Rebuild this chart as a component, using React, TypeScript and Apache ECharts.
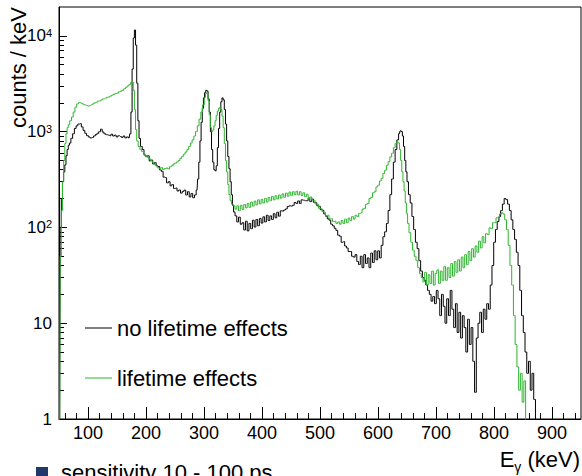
import React, { useEffect, useRef } from "react";
import * as echarts from "echarts";

const seriesNames = ["no lifetime effects", "lifetime effects"];

const noLifetime: [number, number][] = [
  [51, 0.3], [53, 100], [55, 200], [57, 300], [59, 380], [61, 450], [63, 560], [65, 650], [67, 720], [69, 760],
  [72, 850], [75, 950], [78, 1080], [81, 1150], [84, 1200], [87, 1210], [90, 1120], [93, 1030], [96, 960], [99, 910],
  [102, 880], [105, 860], [108, 870], [111, 900], [114, 930], [117, 960], [120, 1000], [123, 1060], [126, 990], [129, 950],
  [132, 930], [135, 920], [138, 905], [141, 940], [144, 900], [147, 920], [150, 880], [153, 905], [156, 890], [159, 870],
  [162, 900], [165, 860], [168, 880], [171, 860], [173, 950], [175, 1600], [177, 4500], [179, 9500], [181, 11500], [183, 8000],
  [185, 3200], [187, 1300], [189, 850], [192, 700], [195, 650], [198, 570], [201, 550], [204, 560], [207, 495], [210, 505],
  [213, 460], [216, 475], [219, 440], [222, 432], [225, 398], [228, 385], [231, 335], [234, 330], [237, 292], [240, 300],
  [243, 272], [246, 280], [249, 255], [252, 258], [255, 240], [258, 246], [261, 228], [264, 238], [267, 245], [270, 218],
  [273, 236], [276, 208], [279, 226], [282, 204], [285, 218], [288, 245], [290, 320], [292, 480], [294, 800], [296, 1250],
  [298, 1750], [300, 2250], [302, 2550], [304, 2700], [306, 2650], [308, 2200], [310, 1600], [312, 1000], [314, 650], [316, 480],
  [318, 400], [320, 390], [322, 440], [324, 680], [326, 1080], [328, 1600], [330, 2050], [332, 2250], [334, 2150], [336, 1700],
  [338, 1200], [340, 800], [342, 550], [344, 410], [346, 300], [348, 220], [350, 170], [352, 145], [355, 132], [358, 114],
  [361, 128], [364, 108], [367, 112], [370, 94], [373, 116], [376, 92], [379, 110], [382, 97], [385, 119], [388, 101],
  [391, 121], [394, 104], [397, 124], [400, 111], [403, 129], [406, 114], [409, 134], [412, 118], [415, 132], [418, 121],
  [421, 139], [424, 126], [427, 144], [430, 131], [433, 149], [436, 148], [439, 152], [442, 156], [445, 165], [448, 168],
  [451, 167], [454, 170], [457, 182], [460, 178], [463, 189], [466, 178], [469, 194], [472, 192], [475, 190], [478, 190],
  [481, 202], [484, 186], [487, 198], [490, 183], [493, 181], [496, 168], [499, 166], [502, 153], [505, 151], [508, 138],
  [511, 131], [514, 123], [517, 119], [520, 108], [523, 104], [526, 98], [529, 93], [532, 83], [535, 81], [538, 70],
  [541, 71], [544, 64], [547, 61], [550, 56], [553, 56], [556, 50], [559, 49], [562, 52], [565, 44], [568, 41],
  [571, 50], [574, 38], [577, 52], [580, 42], [583, 48], [586, 38], [589, 54], [592, 43], [595, 57], [598, 46],
  [601, 57], [604, 48], [607, 65], [610, 80], [613, 90], [616, 110], [619, 150], [622, 220], [625, 320], [628, 480],
  [631, 650], [634, 820], [637, 950], [639, 1020], [641, 1000], [643, 900], [645, 700], [647, 500], [649, 380], [651, 300],
  [654, 220], [657, 180], [660, 130], [663, 95], [666, 70], [669, 60], [672, 45], [675, 35], [678, 30], [681, 28],
  [684, 25], [687, 22], [690, 20], [693, 17], [696, 19], [699, 16], [702, 22], [705, 18], [708, 12], [711, 20],
  [714, 15], [717, 10], [720, 18], [723, 12], [726, 22], [729, 14], [732, 9], [735, 16], [738, 8], [741, 13],
  [744, 7], [747, 12], [750, 9], [753, 5], [756, 11], [759, 6], [762, 9], [765, 4], [768, 1.9], [771, 7],
  [774, 10], [777, 13], [780, 8], [783, 14], [786, 11], [789, 16], [792, 14], [795, 25], [798, 40], [801, 70],
  [804, 95], [807, 115], [810, 130], [813, 150], [816, 175], [819, 200], [822, 195], [825, 175], [828, 150], [831, 120],
  [834, 95], [837, 75], [840, 55], [843, 40], [846, 22], [849, 12], [852, 8], [855, 5], [858, 3], [861, 4],
  [864, 2], [867, 3], [870, 1.6], [873, 0.3],
];

const lifetime: [number, number][] = [
  [51, 0.3], [53, 50], [55, 150], [57, 300], [59, 500], [61, 750], [63, 950], [65, 1100], [67, 1180], [70, 1300],
  [73, 1420], [76, 1600], [79, 1800], [82, 1950], [85, 2010], [88, 1990], [91, 1950], [94, 1910], [97, 1880], [100, 1850],
  [103, 1870], [106, 1900], [109, 1950], [112, 2000], [115, 2030], [118, 2080], [121, 2100], [124, 2150], [127, 2200], [130, 2230],
  [133, 2280], [136, 2300], [139, 2350], [142, 2400], [145, 2450], [148, 2500], [151, 2520], [154, 2600], [157, 2650], [160, 2700],
  [163, 2800], [166, 2900], [169, 3000], [172, 3100], [175, 3250], [177, 3300], [179, 2700], [181, 1700], [183, 1050], [185, 800],
  [188, 700], [191, 650], [194, 620], [197, 585], [200, 560], [203, 540], [206, 520], [209, 500], [212, 478], [215, 455],
  [218, 440], [221, 420], [224, 410], [227, 422], [230, 402], [233, 412], [236, 418], [239, 408], [242, 430], [245, 440],
  [248, 458], [251, 470], [254, 482], [257, 500], [260, 528], [263, 552], [266, 580], [269, 612], [272, 650], [275, 700],
  [278, 760], [281, 820], [284, 900], [287, 1000], [290, 1150], [293, 1350], [296, 1600], [299, 1900], [302, 2250], [304, 2500],
  [306, 2550], [308, 2100], [310, 1500], [312, 1100], [314, 1000], [316, 1040], [318, 1150], [320, 1300], [322, 1480], [324, 1640],
  [326, 1750], [328, 1800], [330, 1700], [332, 1450], [334, 1100], [336, 750], [338, 500], [340, 380], [342, 280], [344, 220],
  [346, 190], [349, 175], [352, 168], [355, 155], [358, 168], [361, 150], [364, 170], [367, 154], [370, 174], [373, 160],
  [376, 178], [379, 162], [382, 184], [385, 167], [388, 188], [391, 172], [394, 194], [397, 176], [400, 196], [403, 180],
  [406, 201], [409, 184], [412, 206], [415, 190], [418, 211], [421, 194], [424, 214], [427, 198], [430, 218], [433, 202],
  [436, 224], [439, 206], [442, 228], [445, 212], [448, 234], [451, 216], [454, 236], [457, 220], [460, 238], [463, 218],
  [466, 236], [469, 215], [472, 230], [475, 209], [478, 222], [481, 200], [484, 208], [487, 192], [490, 192], [493, 176],
  [496, 174], [499, 158], [502, 157], [505, 146], [508, 144], [511, 133], [514, 134], [517, 123], [520, 123], [523, 115],
  [526, 116], [529, 110], [532, 114], [535, 108], [538, 118], [541, 110], [544, 122], [547, 112], [550, 125], [553, 118],
  [556, 130], [559, 122], [562, 134], [565, 130], [568, 140], [571, 142], [574, 155], [577, 158], [580, 174], [583, 178],
  [586, 200], [589, 206], [592, 230], [595, 236], [598, 265], [601, 276], [604, 305], [607, 325], [610, 365], [613, 395],
  [616, 445], [619, 485], [622, 545], [625, 595], [628, 680], [631, 750], [634, 790], [636, 760], [638, 650], [640, 500],
  [642, 380], [644, 300], [646, 240], [648, 180], [650, 140], [652, 110], [655, 88], [658, 70], [661, 58], [664, 50],
  [667, 45], [670, 38], [673, 33], [676, 30], [679, 27], [682, 34], [685, 25], [688, 32], [691, 26], [694, 35],
  [697, 25], [700, 33], [703, 36], [706, 26], [709, 35], [712, 28], [715, 39], [718, 28], [721, 38], [724, 30],
  [727, 42], [730, 31], [733, 44], [736, 34], [739, 46], [742, 35], [745, 49], [748, 38], [751, 52], [754, 41],
  [757, 56], [760, 45], [763, 60], [766, 49], [769, 64], [772, 55], [775, 72], [778, 61], [781, 80], [784, 69],
  [787, 86], [790, 84], [793, 99], [796, 97], [799, 112], [802, 112], [805, 126], [808, 125], [811, 138], [814, 142],
  [817, 138], [820, 120], [823, 95], [826, 65], [829, 40], [832, 25], [835, 12], [838, 6], [841, 3.5], [844, 2],
  [847, 3], [850, 1.5], [853, 2.5], [856, 0.3],
];

const xMajorTicks = [100, 200, 300, 400, 500, 600, 700, 800, 900];
const xMinorTicks = [
  60, 80, 120, 140, 160, 180, 220, 240, 260, 280, 320, 340, 360, 380, 420, 440, 460, 480,
  520, 540, 560, 580, 620, 640, 660, 680, 720, 740, 760, 780, 820, 840, 860, 880, 920, 940,
];
const yMajorTicks = [1, 10, 100, 1000, 10000];
const yMinorTicks = [
  2, 3, 4, 5, 6, 7, 8, 9, 20, 30, 40, 50, 60, 70, 80, 90, 200, 300, 400, 500, 600, 700, 800, 900,
  2000, 3000, 4000, 5000, 6000, 7000, 8000, 9000,
];

export default function App() {
  const ref = useRef<HTMLDivElement>(null);
  useEffect(() => {
    if (!ref.current) return;
    const chart = echarts.init(ref.current, null, { renderer: "svg" });
    const font = "'Liberation Sans', Arial, Helvetica, sans-serif";
    chart.setOption({
      animation: false,
      textStyle: { fontFamily: font },
      grid: {
        left: 59, right: 1, top: 7, bottom: 57,
        show: true, borderColor: "#000", borderWidth: 1, backgroundColor: "transparent",
      },
      xAxis: [
        {
          type: "value", min: 50, max: 950, position: "bottom",
          axisLine: { show: true, onZero: false, lineStyle: { color: "#000", width: 1 } },
          splitLine: { show: false },
          axisTick: { show: true, inside: true, length: 12, customValues: xMajorTicks, lineStyle: { color: "#000" } },
          axisLabel: { show: true, customValues: xMajorTicks, margin: 5, fontSize: 18, color: "#000", fontFamily: font },
        },
        {
          type: "value", min: 50, max: 950, position: "bottom",
          axisLine: { show: false }, splitLine: { show: false },
          axisTick: { show: true, inside: true, length: 6, customValues: xMinorTicks, lineStyle: { color: "#000" } },
          axisLabel: { show: false },
        },
      ],
      yAxis: [
        {
          type: "log", logBase: 10, min: 1, max: 20000, position: "left",
          axisLine: { show: true, onZero: false, lineStyle: { color: "#000", width: 1 } },
          splitLine: { show: false },
          axisTick: { show: true, inside: true, length: 8, customValues: yMajorTicks, lineStyle: { color: "#000" } },
          axisLabel: {
            show: true, customValues: yMajorTicks, margin: 7, color: "#000", fontFamily: font,
            formatter: (v: number) => {
              const n = Math.round(Math.log10(v));
              if (n === 0) return "{b|1}";
              if (n === 1) return "{b|10}";
              return "{b|10}{sup|" + n + "}";
            },
            rich: {
              b: { fontSize: 17, lineHeight: 17, verticalAlign: "bottom", color: "#000", fontFamily: font },
              sup: { fontSize: 11, lineHeight: 11, padding: [0, 0, 10, 0], verticalAlign: "top", color: "#000", fontFamily: font },
            },
          },
        },
        {
          type: "log", logBase: 10, min: 1, max: 20000, position: "left",
          axisLine: { show: false }, splitLine: { show: false },
          axisTick: { show: true, inside: true, length: 5, customValues: yMinorTicks, lineStyle: { color: "#000" } },
          axisLabel: { show: false },
        },
      ],
      legend: {
        data: seriesNames,
        orient: "vertical",
        left: 85, top: 317, padding: 0, itemGap: 28,
        icon: "rect", itemWidth: 27, itemHeight: 1,
        textStyle: { fontSize: 22, lineHeight: 22, color: "#000", fontFamily: font },
      },
      graphic: [
        {
          type: "text", x: 18, y: 7, rotation: Math.PI / 2,
          style: { text: "counts / keV", fontSize: 22, fontFamily: font, fill: "#000", align: "right", verticalAlign: "middle" },
        },
        {
          type: "text", x: 580, y: 448,
          style: {
            text: "E{sub|γ} (keV)", fontSize: 22, fontFamily: font, fill: "#000", align: "right", verticalAlign: "top",
            rich: {
              sub: { fontSize: 14, lineHeight: 14, padding: [12, 0, 0, 0], verticalAlign: "top", fill: "#000", fontFamily: font },
            },
          },
        },
        { type: "rect", shape: { x: 36, y: 467, width: 12, height: 12 }, style: { fill: "#1f3a68" } },
        {
          type: "text", x: 61, y: 461,
          style: { text: "sensitivity 10 - 100 ps", fontSize: 22, fontFamily: font, fill: "#000", align: "left", verticalAlign: "top" },
        },
      ],
      series: [
        {
          name: seriesNames[0], type: "line", step: "middle", data: noLifetime,
          xAxisIndex: 0, yAxisIndex: 0, symbol: "none", showSymbol: false,
          lineStyle: { color: "#000", width: 1 }, itemStyle: { color: "#000" }, clip: true,
        },
        {
          name: seriesNames[1], type: "line", step: "middle", data: lifetime,
          xAxisIndex: 0, yAxisIndex: 0, symbol: "none", showSymbol: false,
          lineStyle: { color: "#2eb52e", width: 1 }, itemStyle: { color: "#2eb52e" }, clip: true,
        },
      ],
    });
    return () => chart.dispose();
  }, []);
  return <div ref={ref} style={{ position: "absolute", left: 0, top: 0, width: 582, height: 476 }} />;
}
